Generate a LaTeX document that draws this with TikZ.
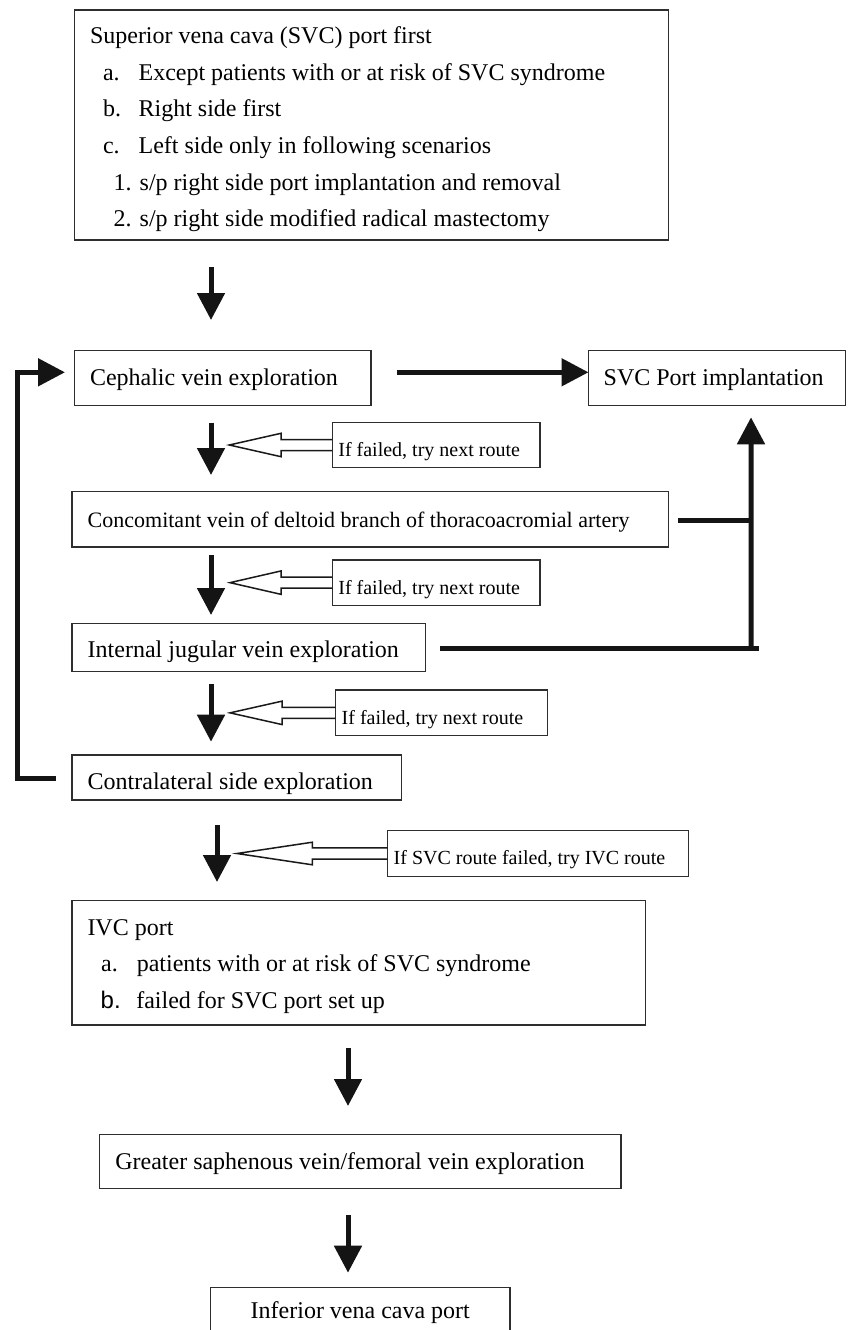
\documentclass[tikz,border=0pt]{standalone}
\usepackage{fontspec}
\setmainfont{Liberation Serif}
\newfontfamily\sansb{Liberation Sans}
\usetikzlibrary{arrows.meta,calc}
\newcommand{\boxtxt}[5]{\hspace*{#1}\raisebox{0pt}[#2][#3]{\begin{minipage}[t]{#4}\raggedright #5\end{minipage}}}
\newcommand{\itm}[2]{\makebox[35.6pt][l]{#1}#2}
\newcommand{\hollowarrow}[5]{\draw[hollow] ($(#1.west)+(0,-#5)$) -- ($(#1.west)+(#2,-#5)$) -- ($(#1.west)+(#2,-#4)$) -- ($(#1.west)+(#3,0)$) -- ($(#1.west)+(#2,#4)$) -- ($(#1.west)+(#2,#5)$) -- ($(#1.west)+(0,#5)$);}
\begin{document}
\begin{tikzpicture}[x=1pt,y=-1pt,
  box/.style={draw=black!82, line width=1.5pt, inner sep=0pt, outer sep=0pt, anchor=north west},
  big/.style={font=\fontsize{24}{36.5}\selectfont},
  mid/.style={font=\fontsize{22}{26}\selectfont},
  small/.style={font=\fontsize{20}{24}\selectfont},
  link/.style={line width=5pt, draw=black!92},
  arr/.style={link, -{Triangle[length=27pt,width=27pt]}},
  hollow/.style={draw=black!90, line width=1.5pt, line join=miter}
]
\useasboundingbox (0,0) rectangle (849,1330);

% boxes
\node[box,big] (top) at (74.7,10) {\boxtxt{15.3pt}{34pt}{196pt}{578.6pt}{Superior vena cava (SVC) port first\\
\hspace*{13pt}\itm{a.}{Except patients with or at risk of SVC syndrome}\\
\hspace*{13pt}\itm{b.}{Right side first}\\
\hspace*{13pt}\itm{c.}{Left side only in following scenarios}\\
\hspace*{23.7pt}1. s/p right side port implantation and removal\\
\hspace*{23.7pt}2. s/p right side modified radical mastectomy}};

\node[box,big] (ceph) at (74.7,350.7) {\boxtxt{15.3pt}{34.8pt}{20.2pt}{280.9pt}{Cephalic vein exploration}};
\node[box,big] (svc) at (588.5,350.7) {\boxtxt{15.2pt}{34.8pt}{20.2pt}{242pt}{SVC Port implantation}};
\node[box,small] (lab1) at (332.4,422.5) {\boxtxt{6pt}{33.5pt}{11.5pt}{201.4pt}{If failed, try next route}};
\node[box,mid] (conc) at (72,491.7) {\boxtxt{15.7pt}{35.3pt}{20pt}{580.7pt}{Concomitant vein of deltoid branch of thoracoacromial artery}};
\node[box,small] (lab2) at (332.4,560) {\boxtxt{6pt}{34pt}{11.3pt}{201.4pt}{If failed, try next route}};
\node[box,big] (ij) at (72,623.3) {\boxtxt{15.7pt}{33.7pt}{14.7pt}{337.9pt}{Internal jugular vein exploration}};
\node[box,small] (lab3) at (335.7,690) {\boxtxt{6pt}{34pt}{11.7pt}{205.7pt}{If failed, try next route}};
\node[box,big] (contra) at (72,755) {\boxtxt{15.7pt}{34pt}{11pt}{314pt}{Contralateral side exploration}};
\node[box,small] (lab4) at (387.7,830.7) {\boxtxt{6pt}{33.8pt}{11.8pt}{295pt}{If SVC route failed, try IVC route}};
\node[box,big] (ivc) at (72,900.7) {\boxtxt{15.5pt}{34.3pt}{90pt}{557.9pt}{IVC port\\
\hspace*{13.7pt}\itm{a.}{patients with or at risk of SVC syndrome}\\
\hspace*{13.2pt}\itm{{\sansb b.}}{failed for SVC port set up}}};
\node[box,big] (gsv) at (99.6,1134.7) {\boxtxt{15.7pt}{34.3pt}{19.3pt}{505.7pt}{Greater saphenous vein/femoral vein exploration}};
\node[box,big] (ivcp) at (210.6,1287.3) {\boxtxt{0pt}{30.7pt}{26pt}{299.4pt}{\centering Inferior vena cava port}};

% main down arrows
\draw[arr] ($(top.south west)+(136.3,27)$) -- ($(ceph.north west)+(136.3,-30.7)$);
\draw[arr] ($(ceph.south west)+(136.3,16.8)$) -- ($(conc.north west)+(139,-16.7)$);
\draw[arr] ($(conc.south west)+(139,8)$) -- ($(ij.north west)+(139,-8.3)$);
\draw[arr] ($(ij.south west)+(139,12.3)$) -- ($(contra.north west)+(139,-13.3)$);
\draw[arr] ($(contra.south west)+(145,25)$) -- ($(ivc.north west)+(145,-18.7)$);
\draw[arr] ($(ivc.south west)+(276,23.3)$) -- ($(gsv.north west)+(248.4,-28.7)$);
\draw[arr] ($(gsv.south west)+(248.4,26.7)$) -- ($(ivcp.north west)+(137.4,-14.6)$);

% cephalic to SVC port
\draw[arr] ($(ceph.north east)+(26,21.6)$) -- ($(svc.north west)+(0,21.6)$);

% loop back from contralateral to cephalic
\draw[arr] ($(contra.west)+(-16.2,1.2)$) -- ++(-38.3,0) |- ($(ceph.north west)+(-9.7,21.6)$);

% right trunk to SVC port
\draw[link] ($(ij.east)+(14.4,0.8)$) -- ($(ij.east)+(333.1,0.8)$);
\draw[link] ($(conc.east)+(9.6,0.7)$) -- ($(conc.east)+(83,0.7)$);
\draw[arr] ($(ij.east)+(325.4,0.8)$) -- ($(svc.south west)+(162.5,11.6)$);

% hollow arrows from labels
\hollowarrow{lab1}{-51.4}{-103.1}{11.7}{5.5}
\hollowarrow{lab2}{-51.4}{-102.4}{11.7}{5.5}
\hollowarrow{lab3}{-53.7}{-105.7}{11.7}{5.5}
\hollowarrow{lab4}{-75.3}{-150.7}{11.3}{5.6}
\end{tikzpicture}
\end{document}
